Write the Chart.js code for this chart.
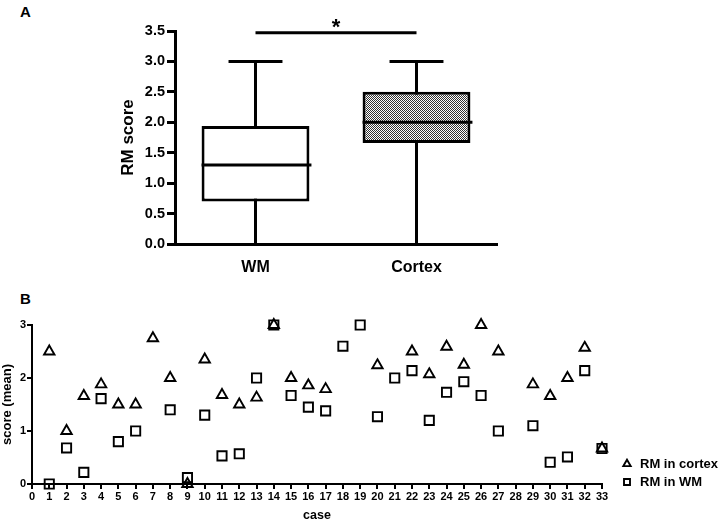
<!DOCTYPE html>
<html>
<head>
<meta charset="utf-8">
<script src="https://cdn.jsdelivr.net/npm/chart.js@4.4.0/dist/chart.umd.min.js"></script>
<style>
  html, body { margin:0; padding:0; background:#fff; }
  body { width:720px; height:522px; position:relative; overflow:hidden; font-family:"Liberation Sans", Arial, sans-serif; }
  .panel { position:absolute; left:0; width:720px; }
  #panelA { top:0; height:275px; }
  #panelB { top:280px; height:242px; }
  .tag { position:absolute; font-weight:bold; font-size:15px; color:#000; line-height:17px; }
</style>
</head>
<body>
<div class="tag" style="left:20px;top:3px">A</div>
<div class="tag" style="left:20px;top:290px">B</div>
<div class="panel" id="panelA"><canvas id="boxcanvas"></canvas></div>
<div class="panel" id="panelB"><canvas id="scattercanvas"></canvas></div>
<script>
// panel A - box plot stats
var groups = ['WM', 'Cortex'];
var mins = [0, 0];
var q1s = [0.70, 1.66];
var medians = [1.30, 2.00];
var q3s = [1.94, 2.50];
var maxs = [3.0, 3.0];
var yTicksA = [0, 0.5, 1.0, 1.5, 2.0, 2.5, 3.0, 3.5];
var sigLevel = 3.47;

// panel B - mean score per case
var cases = [1,2,3,4,5,6,7,8,9,10,11,12,13,14,15,16,17,18,19,20,21,22,23,24,25,26,27,28,29,30,31,32,33];
var cortexScores = [2.5,1.0,1.66,1.88,1.5,1.5,2.75,2.0,0,2.35,1.68,1.5,1.63,3.0,2.0,1.86,1.79,null,null,2.24,null,2.5,2.07,2.59,2.25,3.0,2.5,null,1.88,1.66,2.0,2.57,0.67];
var wmScores = [0,0.68,0.22,1.61,0.8,1.0,null,1.4,0.12,1.3,0.53,0.57,2.0,3.0,1.67,1.45,1.38,2.6,3.0,1.27,2.0,2.14,1.2,1.73,1.93,1.67,1.0,null,1.1,0.41,0.51,2.14,0.67];

var FONT = '"Liberation Sans", Arial, sans-serif';

// checkered fill for the cortex box
function checker() {
  var c = document.createElement('canvas');
  c.width = 2; c.height = 2;
  var g = c.getContext('2d');
  g.fillStyle = '#fff'; g.fillRect(0, 0, 2, 2);
  g.fillStyle = '#333'; g.fillRect(0, 0, 1, 1); g.fillRect(1, 1, 1, 1);
  return g.createPattern(c, 'repeat');
}

var boxExtras = {
  id: 'boxExtras',
  beforeDatasetsDraw: function(chart) {
    var ctx = chart.ctx, x = chart.scales.x, y = chart.scales.y;
    var bars = chart.getDatasetMeta(0).data;
    ctx.save();
    ctx.strokeStyle = '#000';
    ctx.lineWidth = 3;
    for (var i = 0; i < groups.length; i++) {
      var cx = x.getPixelForValue(i);
      var half = bars[i].width / 4;
      ctx.beginPath();
      ctx.moveTo(cx, y.getPixelForValue(mins[i]));
      ctx.lineTo(cx, y.getPixelForValue(maxs[i]));
      ctx.moveTo(cx - half, y.getPixelForValue(maxs[i]));
      ctx.lineTo(cx + half, y.getPixelForValue(maxs[i]));
      ctx.stroke();
    }
    ctx.restore();
  },
  afterDatasetsDraw: function(chart) {
    var ctx = chart.ctx, x = chart.scales.x, y = chart.scales.y;
    var bars = chart.getDatasetMeta(0).data;
    ctx.save();
    ctx.strokeStyle = '#000';
    ctx.lineWidth = 3;
    for (var i = 0; i < groups.length; i++) {
      var cx = x.getPixelForValue(i);
      var half = bars[i].width / 2;
      var my = y.getPixelForValue(medians[i]);
      ctx.beginPath();
      ctx.moveTo(cx - half, my);
      ctx.lineTo(cx + half + 2, my);
      ctx.stroke();
    }
    // significance bar
    var sy = y.getPixelForValue(sigLevel);
    var x0 = x.getPixelForValue(0), x1 = x.getPixelForValue(1);
    ctx.beginPath();
    ctx.moveTo(x0, sy);
    ctx.lineTo(x1, sy);
    ctx.stroke();
    ctx.fillStyle = '#000';
    ctx.font = 'bold 22px ' + FONT;
    ctx.textAlign = 'center';
    ctx.textBaseline = 'alphabetic';
    ctx.fillText('*', (x0 + x1) / 2, sy + 1);
    ctx.restore();
  }
};

new Chart(document.getElementById('boxcanvas'), {
  type: 'bar',
  data: {
    labels: groups,
    datasets: [{
      data: groups.map(function(g, i) { return [q1s[i], q3s[i]]; }),
      backgroundColor: ['#fff', checker()],
      borderColor: '#000',
      borderWidth: 3,
      borderSkipped: false,
      categoryPercentage: 1,
      barPercentage: 0.67
    }]
  },
  options: {
    responsive: true,
    maintainAspectRatio: false,
    animation: false,
    layout: { padding: { top: 31, right: 223, left: 114, bottom: 0 } },
    plugins: { legend: { display: false }, tooltip: { enabled: false } },
    scales: {
      x: {
        grid: { display: false },
        border: { color: '#000', width: 3 },
        ticks: { color: '#000', padding: 6, font: { family: FONT, weight: 'bold', size: 16 } },
        afterFit: function(s) { s.height = 31; }
      },
      y: {
        min: 0, max: 3.5,
        afterBuildTicks: function(s) { s.ticks = yTicksA.map(function(v) { return { value: v }; }); },
        grid: { drawOnChartArea: false, color: '#000', lineWidth: 3, tickLength: 8 },
        border: { color: '#000', width: 3 },
        ticks: {
          color: '#000', padding: 2,
          font: { family: FONT, weight: 'bold', size: 14.5 },
          callback: function(v) { return Number(v).toFixed(1); }
        },
        title: { display: true, text: 'RM score', color: '#000', padding: 4, font: { family: FONT, weight: 'bold', size: 17 } },
        afterFit: function(s) { s.width = 61; }
      }
    }
  },
  plugins: [boxExtras]
});

function points(vals) {
  var out = [];
  for (var i = 0; i < cases.length; i++) {
    if (vals[i] !== null) out.push({ x: cases[i], y: vals[i] });
  }
  return out;
}

new Chart(document.getElementById('scattercanvas'), {
  type: 'scatter',
  data: {
    datasets: [
      {
        label: 'RM in cortex',
        data: points(cortexScores),
        pointStyle: 'triangle',
        pointRadius: 6,
        pointBorderWidth: 1.9,
        borderColor: '#000',
        backgroundColor: 'rgba(0,0,0,0)',
        clip: false
      },
      {
        label: 'RM in WM',
        data: points(wmScores),
        pointStyle: 'rect',
        pointRadius: 6.5,
        pointBorderWidth: 1.9,
        borderColor: '#000',
        backgroundColor: 'rgba(0,0,0,0)',
        clip: false
      }
    ]
  },
  options: {
    responsive: true,
    maintainAspectRatio: false,
    animation: false,
    layout: { padding: { top: 45, right: 0, left: 0, bottom: 10.5 } },
    plugins: {
      tooltip: { enabled: false },
      legend: {
        position: 'right',
        align: 'end',
        maxWidth: 104.5,
        labels: {
          usePointStyle: true,
          boxWidth: 13, boxHeight: 6,
          padding: 5,
          color: '#000',
          font: { family: FONT, weight: 'bold', size: 13 },
          // blank last row so the two entries sit level with the x axis
          generateLabels: function(chart) {
            var items = Chart.defaults.plugins.legend.labels.generateLabels(chart);
            items.push({ text: '', fillStyle: 'rgba(0,0,0,0)', strokeStyle: 'rgba(0,0,0,0)', lineWidth: 0, pointStyle: 'rect', hidden: false });
            return items;
          }
        }
      }
    },
    scales: {
      x: {
        type: 'linear',
        min: 0, max: 33,
        ticks: { stepSize: 1, color: '#000', padding: 1, autoSkip: false, maxRotation: 0, font: { family: FONT, weight: 'bold', size: 11 } },
        grid: { drawOnChartArea: false, color: '#000', lineWidth: 2, tickLength: 5 },
        border: { color: '#000', width: 2 },
        title: { display: true, text: 'case', color: '#000', padding: { top: 0, bottom: -11.5 }, font: { family: FONT, weight: 'bold', size: 12.5 } },
        afterFit: function(s) { s.height = 27.5; }
      },
      y: {
        min: 0, max: 3,
        ticks: { stepSize: 1, color: '#000', padding: 1, font: { family: FONT, weight: 'bold', size: 11 } },
        grid: { drawOnChartArea: false, color: '#000', lineWidth: 2, tickLength: 5 },
        border: { color: '#000', width: 2 },
        title: { display: true, text: 'score (mean)', color: '#000', padding: 0, font: { family: FONT, weight: 'bold', size: 13 } },
        afterFit: function(s) { s.width = 32; }
      },
      // empty right axis, only keeps a gap between plot and legend
      gap: {
        type: 'linear',
        position: 'right',
        grid: { display: false },
        border: { display: false },
        ticks: { display: false },
        afterFit: function(s) { s.width = 13.5; }
      }
    }
  }
});
</script>
</body>
</html>
